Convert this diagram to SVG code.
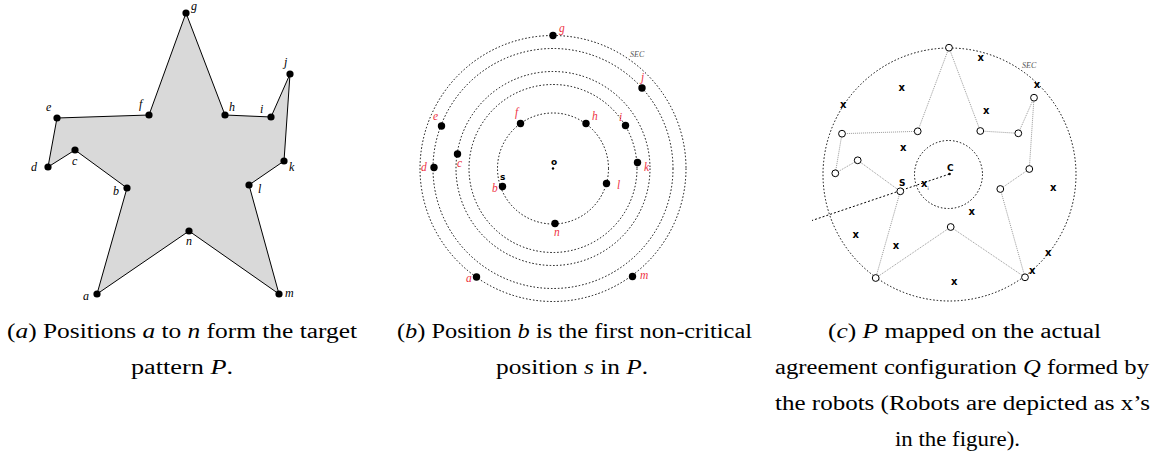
<svg xmlns="http://www.w3.org/2000/svg" width="1169" height="459" viewBox="0 0 1169 459">
<style>
.bg{fill:#ffffff}
.lbl{font-family:"Liberation Serif","Times New Roman",serif;font-style:italic;font-size:12px;fill:#000}
.rl{font-family:"Liberation Serif","Times New Roman",serif;font-style:italic;font-size:11.5px;fill:#ee3344}
.dot{fill:#000}
.ring{fill:none;stroke:#000;stroke-width:1;stroke-dasharray:1.5 2}
.odot{fill:#fff;stroke:#000;stroke-width:1}
.pl{fill:none;stroke:#999;stroke-width:1;stroke-dasharray:1 1}
.xm{font-family:"DejaVu Sans",sans-serif;font-weight:bold;font-size:10px;fill:#000;text-anchor:middle}
.sm{font-family:"DejaVu Sans",sans-serif;font-weight:bold;font-size:9px;fill:#000}
.sec{font-family:"Liberation Serif","Times New Roman",serif;font-style:italic;font-size:8px;fill:#555}
.cap{font-family:"Liberation Serif","Times New Roman",serif;font-size:20px;fill:#000}
.it{font-style:italic}
</style>
<rect class="bg" x="0" y="0" width="1169" height="459"/>

<!-- Panel (a) -->
<g id="panel-a">
  <g id="a-edges">
    <polygon points="97,294 127,188 75,150 48,167 57,118 149,115 186,13 225,115 271,117 290,74 284,161 249,185 279,294 189,231" fill="#d9d9d9" stroke="#000" stroke-width="1"/>
  </g>
  <g id="a-a"><circle class="dot" cx="97" cy="294" r="3.6"/><text class="lbl" x="83" y="300">a</text></g>
  <g id="a-b"><circle class="dot" cx="127" cy="188" r="3.6"/><text class="lbl" x="113" y="195">b</text></g>
  <g id="a-c"><circle class="dot" cx="75" cy="150" r="3.6"/><text class="lbl" x="72" y="165">c</text></g>
  <g id="a-d"><circle class="dot" cx="48" cy="167" r="3.6"/><text class="lbl" x="31" y="171">d</text></g>
  <g id="a-e"><circle class="dot" cx="57" cy="118" r="3.6"/><text class="lbl" x="46" y="111">e</text></g>
  <g id="a-f"><circle class="dot" cx="149" cy="115" r="3.6"/><text class="lbl" x="139" y="108">f</text></g>
  <g id="a-g"><circle class="dot" cx="186" cy="13" r="3.6"/><text class="lbl" x="191" y="10">g</text></g>
  <g id="a-h"><circle class="dot" cx="225" cy="115" r="3.6"/><text class="lbl" x="229" y="111">h</text></g>
  <g id="a-i"><circle class="dot" cx="271" cy="117" r="3.6"/><text class="lbl" x="260" y="113">i</text></g>
  <g id="a-j"><circle class="dot" cx="290" cy="74" r="3.6"/><text class="lbl" x="284" y="66">j</text></g>
  <g id="a-k"><circle class="dot" cx="284" cy="161" r="3.6"/><text class="lbl" x="289" y="171">k</text></g>
  <g id="a-l"><circle class="dot" cx="249" cy="185" r="3.6"/><text class="lbl" x="258" y="193">l</text></g>
  <g id="a-m"><circle class="dot" cx="279" cy="294" r="3.6"/><text class="lbl" x="285" y="297">m</text></g>
  <g id="a-n"><circle class="dot" cx="189" cy="231" r="3.6"/><text class="lbl" x="186" y="245">n</text></g>
</g>

<!-- Panel (b) -->
<g id="panel-b">
  <g id="b-rings">
    <circle class="ring" cx="553" cy="168.5" r="133"/>
    <circle class="ring" cx="553" cy="168.5" r="120"/>
    <circle class="ring" cx="553" cy="168.5" r="97"/>
    <circle class="ring" cx="553" cy="168.5" r="84"/>
    <circle class="ring" cx="553" cy="168.5" r="55.5"/>
  </g>
  <text class="sec" x="630" y="57">SEC</text>
  <g id="b-o"><circle class="dot" cx="553" cy="168.5" r="1.2"/><text class="sm" x="551" y="165">o</text></g>
  <g id="b-g"><circle class="dot" cx="553" cy="35.5" r="3.7"/><text class="rl" x="559" y="32">g</text></g>
  <g id="b-j"><circle class="dot" cx="642" cy="88" r="3.7"/><text class="rl" x="641" y="81">j</text></g>
  <g id="b-e"><circle class="dot" cx="441.5" cy="126" r="3.7"/><text class="rl" x="433" y="120">e</text></g>
  <g id="b-d"><circle class="dot" cx="434" cy="167.5" r="3.7"/><text class="rl" x="421" y="171">d</text></g>
  <g id="b-c"><circle class="dot" cx="457.5" cy="154" r="3.7"/><text class="rl" x="457" y="167">c</text></g>
  <g id="b-i"><circle class="dot" cx="625.5" cy="125.5" r="3.7"/><text class="rl" x="619" y="121">i</text></g>
  <g id="b-k"><circle class="dot" cx="637.5" cy="162.5" r="3.7"/><text class="rl" x="644" y="171">k</text></g>
  <g id="b-f"><circle class="dot" cx="520.5" cy="123.5" r="3.7"/><text class="rl" x="515" y="116">f</text></g>
  <g id="b-h"><circle class="dot" cx="586" cy="123.5" r="3.7"/><text class="rl" x="592" y="120">h</text></g>
  <g id="b-b"><circle class="dot" cx="502.5" cy="186.5" r="3.7"/><text class="rl" x="492" y="192">b</text><text class="sm" x="500" y="180">s</text></g>
  <g id="b-l"><circle class="dot" cx="606.5" cy="183.5" r="3.7"/><text class="rl" x="617" y="189">l</text></g>
  <g id="b-n"><circle class="dot" cx="555" cy="223.5" r="3.7"/><text class="rl" x="554" y="236">n</text></g>
  <g id="b-a"><circle class="dot" cx="476.5" cy="277" r="3.7"/><text class="rl" x="466" y="282">a</text></g>
  <g id="b-m"><circle class="dot" cx="632.5" cy="276.5" r="3.7"/><text class="rl" x="640" y="279">m</text></g>
</g>

<!-- Panel (c) -->
<g id="panel-c">
  <circle class="ring" cx="949.5" cy="174.5" r="126.5"/>
  <circle class="ring" cx="948.5" cy="174.5" r="34"/>
  <text class="sec" x="1022" y="68">SEC</text>
  <g id="c-connectors">
    <polyline class="pl" points="875.7,278 900.3,191.3 857.7,160.3 835.3,173.3 842,133.7 917.7,131.3 949,47.7 980.3,131 1018.3,133.3 1034,97.7 1029.3,169 1000.3,189 1025,277.3 950.7,227 875.7,278"/>
    <line x1="949.5" y1="174" x2="812" y2="220.5" stroke="#000" stroke-width="1" stroke-dasharray="2 2"/>
  </g>
  <g id="c-center"><circle class="dot" cx="949.5" cy="174" r="1.3"/><text class="sm" x="947" y="171">C</text></g>
  <g id="c-a"><circle class="odot" cx="875.7" cy="278" r="3.4"/></g>
  <g id="c-b"><circle class="odot" cx="900.3" cy="191.3" r="3.4"/><text class="sm" x="899" y="186">S</text></g>
  <g id="c-c"><circle class="odot" cx="857.7" cy="160.3" r="3.4"/></g>
  <g id="c-d"><circle class="odot" cx="835.3" cy="173.3" r="3.4"/></g>
  <g id="c-e"><circle class="odot" cx="842" cy="133.7" r="3.4"/></g>
  <g id="c-f"><circle class="odot" cx="917.7" cy="131.3" r="3.4"/></g>
  <g id="c-g"><circle class="odot" cx="949" cy="47.7" r="3.4"/></g>
  <g id="c-h"><circle class="odot" cx="980.3" cy="131" r="3.4"/></g>
  <g id="c-i"><circle class="odot" cx="1018.3" cy="133.3" r="3.4"/></g>
  <g id="c-j"><circle class="odot" cx="1034" cy="97.7" r="3.4"/></g>
  <g id="c-k"><circle class="odot" cx="1029.3" cy="169" r="3.4"/></g>
  <g id="c-l"><circle class="odot" cx="1000.3" cy="189" r="3.4"/></g>
  <g id="c-m"><circle class="odot" cx="1025" cy="277.3" r="3.4"/></g>
  <g id="c-n"><circle class="odot" cx="950.7" cy="227" r="3.4"/></g>
  <g id="c-robots">
    <text class="xm" x="980.7" y="61">x</text>
    <text class="xm" x="1037" y="87.5">x</text>
    <text class="xm" x="901.7" y="91">x</text>
    <text class="xm" x="843.3" y="107.5">x</text>
    <text class="xm" x="986.3" y="113.5">x</text>
    <text class="xm" x="903.3" y="151">x</text>
    <text class="xm" x="924.3" y="186.5">x</text>
    <text x="927.5" y="190" style="font-family:'DejaVu Sans',sans-serif;font-size:4.5px;fill:#000">i</text>
    <text class="xm" x="1053.3" y="190.5">x</text>
    <text class="xm" x="971.7" y="214.5">x</text>
    <text class="xm" x="855.7" y="237.5">x</text>
    <text class="xm" x="896" y="248.5">x</text>
    <text class="xm" x="1048.3" y="256">x</text>
    <text class="xm" x="1032.3" y="274">x</text>
    <text class="xm" x="954.3" y="285">x</text>
  </g>
</g>

<!-- Captions -->
<g id="captions">
  <text class="cap" x="7" y="338" textLength="350" lengthAdjust="spacingAndGlyphs">(<tspan class="it">a</tspan>) Positions <tspan class="it">a</tspan> to <tspan class="it">n</tspan> form the target</text>
  <text class="cap" x="131" y="374" textLength="102" lengthAdjust="spacingAndGlyphs">pattern <tspan class="it">P</tspan>.</text>
  <text class="cap" x="397" y="338" textLength="355" lengthAdjust="spacingAndGlyphs">(<tspan class="it">b</tspan>) Position <tspan class="it">b</tspan> is the first non-critical</text>
  <text class="cap" x="496" y="374" textLength="152" lengthAdjust="spacingAndGlyphs">position <tspan class="it">s</tspan> in <tspan class="it">P</tspan>.</text>
  <text class="cap" x="828" y="338" textLength="273" lengthAdjust="spacingAndGlyphs">(<tspan class="it">c</tspan>) <tspan class="it">P</tspan> mapped on the actual</text>
  <text class="cap" x="775" y="374" textLength="374" lengthAdjust="spacingAndGlyphs">agreement configuration <tspan class="it">Q</tspan> formed by</text>
  <text class="cap" x="775" y="410" textLength="375" lengthAdjust="spacingAndGlyphs">the robots (Robots are depicted as x’s</text>
  <text class="cap" x="895" y="446" textLength="125" lengthAdjust="spacingAndGlyphs">in the figure).</text>
</g>
</svg>
